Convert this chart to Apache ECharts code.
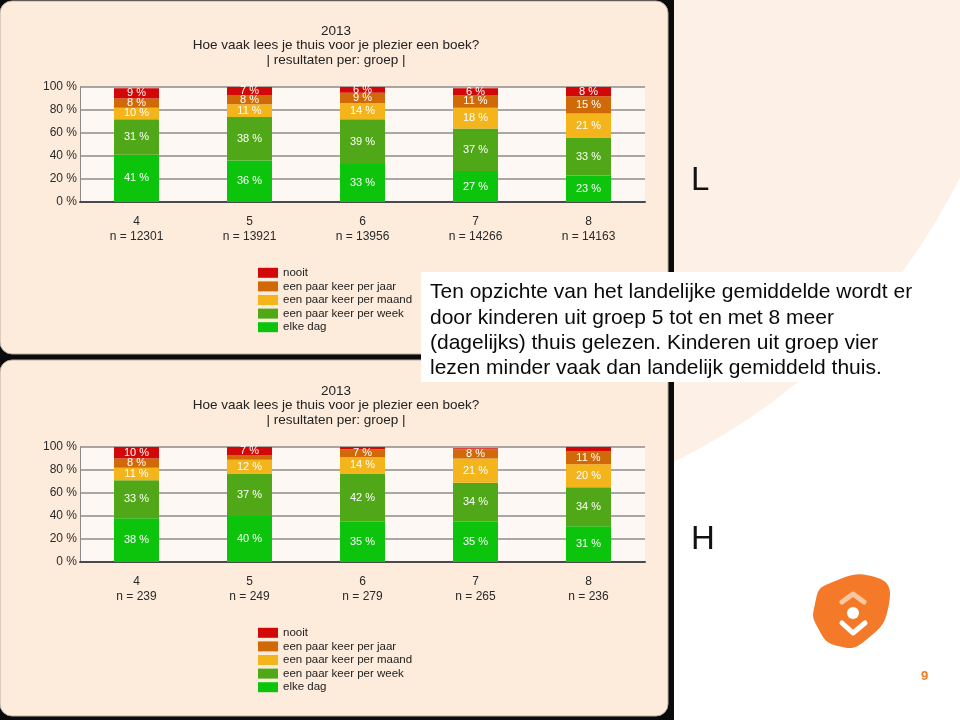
<!DOCTYPE html>
<html>
<head>
<meta charset="utf-8">
<script src="https://cdn.jsdelivr.net/npm/echarts@6/dist/echarts.min.js"></script>
<style>
html,body{margin:0;padding:0;background:#fff;}
#c{width:960px;height:720px;}
</style>
</head>
<body>
<div id="c"></div>
<script>
// ---- data ----
var groups = ['4', '5', '6', '7', '8'];
var nLow = [12301, 13921, 13956, 14266, 14163];
var nHigh = [239, 249, 279, 265, 236];
var seriesNames = ['elke dag', 'een paar keer per week', 'een paar keer per maand', 'een paar keer per jaar', 'nooit'];
var legendOrder = ['nooit', 'een paar keer per jaar', 'een paar keer per maand', 'een paar keer per week', 'elke dag'];
// L (top chart)
var lowElkeDag = [41, 36, 33, 27, 23];
var lowWeek = [31, 38, 39, 37, 33];
var lowMaand = [10, 11, 14, 18, 21];
var lowJaar = [8, 8, 9, 11, 15];
var lowNooit = [9, 7, 6, 6, 8];
// H (bottom chart)
var highElkeDag = [38, 40, 35, 35, 31];
var highWeek = [33, 37, 42, 34, 34];
var highMaand = [11, 12, 14, 21, 20];
var highJaar = [8, 4, 7, 8, 11];
var highNooit = [10, 7, 2, 1, 4];
var yTicks = [0, 20, 40, 60, 80, 100];
var titleText = '2013\nHoe vaak lees je thuis voor je plezier een boek?\n| resultaten per: groep |';
var slideText = 'Ten opzichte van het landelijke gemiddelde wordt er\ndoor kinderen uit groep 5 tot en met 8 meer\n(dagelijks) thuis gelezen. Kinderen uit groep vier\nlezen minder vaak dan landelijk gemiddeld thuis.';

var colors = ['#0cc40c', '#50a818', '#f4b41c', '#d06a08', '#d20808'];
var FONT = 'Liberation Sans';

var lowData = [lowElkeDag, lowWeek, lowMaand, lowJaar, lowNooit];
var highData = [highElkeDag, highWeek, highMaand, highJaar, highNooit];

function makeSeries(dataSets, idx) {
  return dataSets.map(function (d, k) {
    return {
      name: seriesNames[k],
      type: 'bar',
      stack: 'st' + idx,
      xAxisIndex: idx,
      yAxisIndex: idx,
      barWidth: 45,
      data: d,
      itemStyle: { color: colors[k] },
      label: {
        show: true,
        position: 'inside',
        color: '#ffffff',
        fontFamily: FONT,
        fontSize: 11,
        formatter: function (p) { return p.value >= 5 ? p.value + ' %' : ''; }
      }
    };
  });
}

function xAxis(idx, ns) {
  return {
    type: 'category', gridIndex: idx, data: groups,
    axisTick: { show: false },
    axisLine: { lineStyle: { color: '#4a4a4a', width: 2 } },
    axisLabel: {
      color: '#2a2a2a', fontFamily: FONT, fontSize: 12, lineHeight: 15, margin: 12,
      formatter: function (v, i) { return v + '\nn = ' + ns[i]; }
    }
  };
}
function yAxis(idx) {
  return {
    type: 'value', gridIndex: idx, min: yTicks[0], max: yTicks[yTicks.length - 1], interval: 20,
    axisLine: { show: true, lineStyle: { color: '#8a8a8a', width: 1 } },
    axisTick: { show: false },
    splitLine: { lineStyle: { color: '#8c8c8c', width: 1.5 } },
    axisLabel: { color: '#2a2a2a', fontFamily: FONT, fontSize: 12, margin: 3, formatter: '{value} %' }
  };
}

var chart = echarts.init(document.getElementById('c'), null, { renderer: 'canvas' });

var titleStyle = { fontFamily: FONT, fontSize: 13.5, fontWeight: 'normal', color: '#222', lineHeight: 14.5 };
var legendBase = { data: legendOrder, orient: 'vertical', left: 258, padding: 0, itemWidth: 20, itemHeight: 10, itemGap: 0,
  icon: 'rect', textStyle: { fontFamily: FONT, fontSize: 11.5, color: '#222', lineHeight: 13.6 }, selectedMode: false };

var option = {
  animation: false,
  backgroundColor: '#ffffff',
  textStyle: { fontFamily: FONT },
  title: [
    { text: titleText, left: 336, top: 24, padding: 0, textAlign: 'center', textStyle: titleStyle },
    { text: titleText, left: 336, top: 384, padding: 0, textAlign: 'center', textStyle: titleStyle }
  ],
  legend: [
    Object.assign({}, legendBase, { top: 266 }),
    Object.assign({}, legendBase, { top: 626 })
  ],
  grid: [
    { left: 80, top: 87, width: 565, height: 115, show: true, backgroundColor: '#fdf8f4', borderWidth: 0 },
    { left: 80, top: 447, width: 565, height: 115, show: true, backgroundColor: '#fdf8f4', borderWidth: 0 }
  ],
  xAxis: [xAxis(0, nLow), xAxis(1, nHigh)],
  yAxis: [yAxis(0), yAxis(1)],
  series: makeSeries(lowData, 0).concat(makeSeries(highData, 1)),
  graphic: [
    // slide background
    { type: 'rect', z: -20, shape: { x: 0, y: 0, width: 960, height: 720 }, style: { fill: '#ffffff' } },
    { type: 'circle', z: -19, shape: { cx: 400, cy: -100, r: 625 }, style: { fill: '#fdf0e7' } },
    { type: 'rect', z: -18, shape: { x: 0, y: 0, width: 674, height: 720 }, style: { fill: '#0b0b0b' } },
    { type: 'rect', z: -17, shape: { x: 0, y: 1, width: 668, height: 353, r: 12 },
      style: { fill: '#fdebdb', stroke: '#b9aea4', lineWidth: 1 } },
    { type: 'rect', z: -17, shape: { x: 0, y: 360, width: 668, height: 356, r: 12 },
      style: { fill: '#fdebdb', stroke: '#b9aea4', lineWidth: 1 } },
    // letters
    { type: 'text', z: 5, left: 691, top: 164, style: { text: 'L', font: '33px "Liberation Sans"', fill: '#111' } },
    { type: 'text', z: 5, left: 691, top: 523, style: { text: 'H', font: '33px "Liberation Sans"', fill: '#111' } },
    // logo
    { type: 'polygon', z: 5, shape: { smooth: 0.55, points: [[828, 584], [878, 578], [889, 604], [866, 640], [838, 646], [818, 628], [815, 604]] },
      style: { fill: '#f47a2a' } },
    { type: 'polyline', z: 6, shape: { points: [[842, 602], [853, 594], [864, 602]] },
      style: { stroke: '#f9c7a2', lineWidth: 5, fill: null, lineCap: 'round', lineJoin: 'round' } },
    { type: 'circle', z: 6, shape: { cx: 853, cy: 613, r: 6 }, style: { fill: '#ffffff' } },
    { type: 'polyline', z: 6, shape: { points: [[842, 623], [853, 633], [865, 623]] },
      style: { stroke: '#ffffff', lineWidth: 5, fill: null, lineCap: 'round', lineJoin: 'round' } },
    { type: 'text', z: 5, left: 921, top: 670, style: { text: '9', font: 'bold 13px "Liberation Sans"', fill: '#f07a22' } },
    // overlay text box
    { type: 'rect', zlevel: 1, shape: { x: 421, y: 272, width: 503, height: 110 }, style: { fill: '#ffffff' } },
    { type: 'text', zlevel: 1, left: 430, top: 280,
      style: { text: slideText, font: '21px "Liberation Sans"', fill: '#0a0a0a', lineHeight: 25.3 } }
  ]
};
chart.setOption(option);
</script>
</body>
</html>
